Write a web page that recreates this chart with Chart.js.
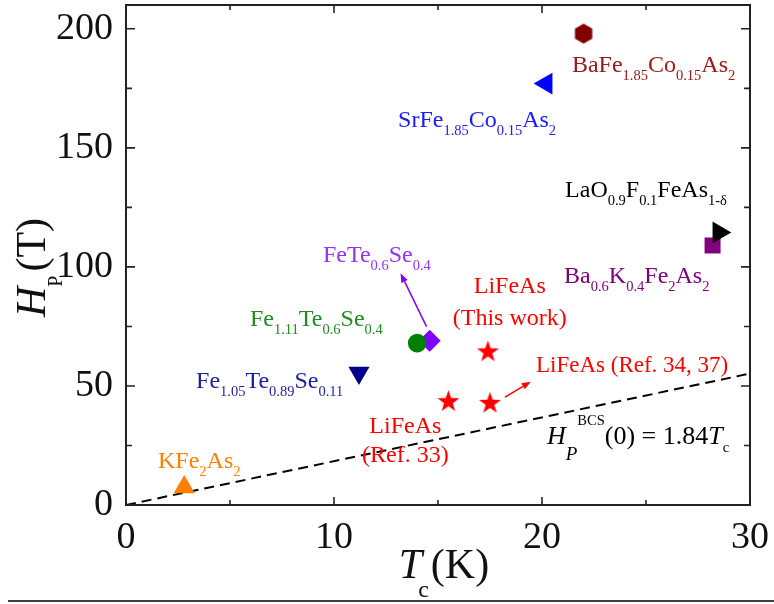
<!DOCTYPE html>
<html>
<head>
<meta charset="utf-8">
<script src="https://cdn.jsdelivr.net/npm/chart.js@4/dist/chart.umd.min.js"></script>
<style>
  html, body { margin: 0; padding: 0; background: #fff; }
  #wrap { width: 774px; height: 604px; }
</style>
</head>
<body>
<div id="wrap"><canvas id="c" width="774" height="604"></canvas></div>
<script>
// ---------------- data ----------------
const compounds = ['BaFe1.85Co0.15As2', 'SrFe1.85Co0.15As2', 'LaO0.9F0.1FeAs1-δ', 'Ba0.6K0.4Fe2As2',
  'Fe1.11Te0.6Se0.4', 'FeTe0.6Se0.4', 'Fe1.05Te0.89Se0.11',
  'LiFeAs (This work)', 'LiFeAs (Ref. 33)', 'LiFeAs (Ref. 34, 37)', 'KFe2As2'];
const tcValues = [22.0, 20.2, 28.5, 28.2, 14.0, 14.6, 11.2, 17.4, 15.5, 17.5, 2.8];
const hpValues = [198, 177, 114.5, 109, 68, 69, 55.5, 64.7, 43.8, 43.1, 7.5];
const bcsTc = [0, 30];
const bcsHp = [0, 55.2];
const xTickValues = [0, 10, 20, 30];
const yTickValues = [0, 50, 100, 150, 200];

// ---------------- styles ----------------
const SERIF = '"Liberation Serif", "Times New Roman", serif';

function makeHexagon(color, r) {
  const c = document.createElement('canvas');
  const s = Math.ceil(2 * r + 2);
  c.width = s; c.height = s;
  const g = c.getContext('2d');
  g.fillStyle = color;
  g.beginPath();
  for (let i = 0; i < 6; i++) {
    const a = -Math.PI / 2 + i * Math.PI / 3;
    const px = s / 2 + r * Math.cos(a), py = s / 2 + r * Math.sin(a);
    i ? g.lineTo(px, py) : g.moveTo(px, py);
  }
  g.closePath(); g.fill();
  return c;
}
function makeStar(color, ro, ri) {
  const c = document.createElement('canvas');
  const s = Math.ceil(2 * ro + 2);
  c.width = s; c.height = s;
  const g = c.getContext('2d');
  g.fillStyle = color;
  g.beginPath();
  for (let i = 0; i < 10; i++) {
    const a = -Math.PI / 2 + i * Math.PI / 5;
    const r = i % 2 ? ri : ro;
    const px = s / 2 + r * Math.cos(a), py = s / 2 + 1 + r * Math.sin(a);
    i ? g.lineTo(px, py) : g.moveTo(px, py);
  }
  g.closePath(); g.fill();
  return c;
}
const star = makeStar('#ff0000', 11.5, 4.6);
const markerStyles = [
  { color: '#800000', style: makeHexagon('#800000', 10), radius: 10, rotation: 0 },
  { color: '#0000ff', style: 'triangle', radius: 12.5, rotation: -90 },
  { color: '#000000', style: 'triangle', radius: 12.5, rotation: 90 },
  { color: '#800080', style: 'rect', radius: 11.3, rotation: 0 },
  { color: '#008000', style: 'circle', radius: 9.3, rotation: 0 },
  { color: '#8000ff', style: 'rectRot', radius: 11, rotation: 0 },
  { color: '#00008b', style: 'triangle', radius: 12.2, rotation: 180 },
  { color: '#ff0000', style: star, radius: 10, rotation: 0 },
  { color: '#ff0000', style: star, radius: 10, rotation: 0 },
  { color: '#ff0000', style: star, radius: 10, rotation: 0 },
  { color: '#ff8000', style: 'triangle', radius: 12.2, rotation: 0 }
];

const datasets = compounds.map((name, i) => ({
  type: 'scatter',
  label: name,
  data: [{ x: tcValues[i], y: hpValues[i] }],
  pointStyle: markerStyles[i].style,
  pointRadius: markerStyles[i].radius,
  pointRotation: markerStyles[i].rotation,
  backgroundColor: markerStyles[i].color,
  borderColor: markerStyles[i].color,
  borderWidth: 0,
  order: i
}));
datasets.push({
  type: 'line',
  label: 'H_P^BCS(0) = 1.84 Tc',
  data: bcsTc.map((t, i) => ({ x: t, y: bcsHp[i] })),
  borderColor: '#000',
  borderWidth: 2,
  borderDash: [10, 6],
  pointRadius: 0,
  fill: false,
  order: 100
});

// ---------------- annotation text (positions in data units) ----------------
const annotations = [
  { at: [21.44, 181.9], align: 'left', color: '#a01818',
    segs: [['BaFe'], ['1.85', 'sub'], ['Co'], ['0.15', 'sub'], ['As'], ['2', 'sub']] },
  { at: [13.08, 158.8], align: 'left', color: '#1a1aff',
    segs: [['SrFe'], ['1.85', 'sub'], ['Co'], ['0.15', 'sub'], ['As'], ['2', 'sub']] },
  { at: [21.11, 129.4], align: 'left', color: '#000000',
    segs: [['LaO'], ['0.9', 'sub'], ['F'], ['0.1', 'sub'], ['FeAs'], ['1-δ', 'sub']] },
  { at: [21.06, 93.3], align: 'left', color: '#800080',
    segs: [['Ba'], ['0.6', 'sub'], ['K'], ['0.4', 'sub'], ['Fe'], ['2', 'sub'], ['As'], ['2', 'sub']] },
  { at: [9.47, 102.1], align: 'left', color: '#8f33ff',
    segs: [['FeTe'], ['0.6', 'sub'], ['Se'], ['0.4', 'sub']] },
  { at: [18.45, 88.9], align: 'center', color: '#ff0000', segs: [['LiFeAs']] },
  { at: [18.45, 75.8], align: 'center', color: '#ff0000', segs: [['(This work)']] },
  { at: [5.96, 75.2], align: 'left', color: '#1f8c1f',
    segs: [['Fe'], ['1.11', 'sub'], ['Te'], ['0.6', 'sub'], ['Se'], ['0.4', 'sub']] },
  { at: [3.37, 49.2], align: 'left', color: '#1c1ca8',
    segs: [['Fe'], ['1.05', 'sub'], ['Te'], ['0.89', 'sub'], ['Se'], ['0.11', 'sub']] },
  { at: [19.71, 55.9], align: 'left', color: '#ff0000', size: 23, segs: [['LiFeAs (Ref. 34, 37)']] },
  { at: [13.43, 30.3], align: 'center', color: '#ff0000', segs: [['LiFeAs']] },
  { at: [13.43, 18.1], align: 'center', color: '#ff0000', segs: [['(Ref. 33)']] },
  { at: [20.24, 25.6], align: 'left', color: '#000000', size: 26,
    segs: [['H', 'it'], ['P', 'itsub'], ['BCS', 'sup'], ['(0) = 1.84'], ['T', 'it'], ['c', 'sub']] },
  { at: [1.54, 15.5], align: 'left', color: '#ff8000',
    segs: [['KFe'], ['2', 'sub'], ['As'], ['2', 'sub']] }
];
const arrows = [
  { from: [14.45, 74.9], to: [13.2, 97.3], color: '#8000ff' },
  { from: [18.22, 45.3], to: [19.46, 51.8], color: '#ff0000' }
];

// ---------------- rich text helpers ----------------
const SUB = 14.5;
function segFont(kind, main) {
  switch (kind) {
    case 'sub': return { font: `${SUB}px ${SERIF}`, dy: 8 };
    case 'itsub': return { font: `italic 19px ${SERIF}`, dy: 16 };
    case 'sup': return { font: `${SUB}px ${SERIF}`, dy: -19 };
    case 'it': return { font: `italic ${main}px ${SERIF}`, dy: 0 };
    default: return { font: `${main}px ${SERIF}`, dy: 0 };
  }
}
function drawRich(ctx, x, y, segs, color, align, main) {
  let total = 0;
  segs.forEach(([t, k]) => { ctx.font = segFont(k, main).font; total += ctx.measureText(t).width; });
  let cx = align === 'center' ? x - total / 2 : x;
  ctx.fillStyle = color;
  ctx.textBaseline = 'alphabetic';
  ctx.textAlign = 'left';
  segs.forEach(([t, k]) => {
    const f = segFont(k, main);
    ctx.font = f.font;
    ctx.fillText(t, cx, y + f.dy);
    cx += ctx.measureText(t).width;
  });
}

const decorPlugin = {
  id: 'decor',
  afterDatasetsDraw(chart) {
    const { ctx, chartArea: a } = chart;
    const xs = chart.scales.x, ys = chart.scales.y;
    ctx.save();
    // frame
    ctx.strokeStyle = '#222';
    ctx.lineWidth = 2;
    ctx.strokeRect(a.left, a.top, a.right - a.left, a.bottom - a.top);
    // inward ticks
    ctx.lineWidth = 1.6;
    ctx.beginPath();
    for (let v = 0; v <= 30; v += 5) {
      const px = xs.getPixelForValue(v);
      const L = v % 10 === 0 ? 8 : 5;
      ctx.moveTo(px, a.bottom); ctx.lineTo(px, a.bottom - L);
      ctx.moveTo(px, a.top); ctx.lineTo(px, a.top + L);
    }
    for (let v = 0; v <= 200; v += 25) {
      const py = ys.getPixelForValue(v);
      const L = v % 50 === 0 ? 9 : 6;
      ctx.moveTo(a.left, py); ctx.lineTo(a.left + L, py);
      ctx.moveTo(a.right, py); ctx.lineTo(a.right - L, py);
    }
    ctx.stroke();

    // arrows
    arrows.forEach(ar => {
      const x1 = xs.getPixelForValue(ar.from[0]), y1 = ys.getPixelForValue(ar.from[1]);
      const x2 = xs.getPixelForValue(ar.to[0]), y2 = ys.getPixelForValue(ar.to[1]);
      const ang = Math.atan2(y2 - y1, x2 - x1);
      const hl = 9, hw = 3.5;
      ctx.strokeStyle = ar.color; ctx.fillStyle = ar.color; ctx.lineWidth = 1.5;
      ctx.beginPath();
      ctx.moveTo(x1, y1);
      ctx.lineTo(x2 - hl * Math.cos(ang), y2 - hl * Math.sin(ang));
      ctx.stroke();
      ctx.beginPath();
      ctx.moveTo(x2, y2);
      ctx.lineTo(x2 - hl * Math.cos(ang) + hw * Math.sin(ang), y2 - hl * Math.sin(ang) - hw * Math.cos(ang));
      ctx.lineTo(x2 - hl * Math.cos(ang) - hw * Math.sin(ang), y2 - hl * Math.sin(ang) + hw * Math.cos(ang));
      ctx.closePath(); ctx.fill();
    });

    // annotation labels
    annotations.forEach(an => {
      drawRich(ctx, xs.getPixelForValue(an.at[0]), ys.getPixelForValue(an.at[1]), an.segs, an.color, an.align, an.size || 24);
    });

    // axis titles
    ctx.fillStyle = '#111';
    ctx.textBaseline = 'alphabetic';
    ctx.textAlign = 'left';
    // x title: T_c(K)
    {
      const fT = `italic 42px ${SERIF}`, fS = `24px ${SERIF}`, fM = `42px ${SERIF}`;
      ctx.font = fT; const wT = ctx.measureText('T').width;
      ctx.font = fS; const wS = ctx.measureText('c').width;
      ctx.font = fM; const wM = ctx.measureText('(K)').width;
      const total = wT + wS + wM;
      let x0 = (a.left + a.right) / 2 + 7 - total / 2;
      const base = 578;
      ctx.font = fT; ctx.fillText('T', x0, base);
      ctx.font = fS; ctx.fillText('c', x0 + wT - 4, base + 19);
      ctx.font = fM; ctx.fillText('(K)', x0 + wT + wS - 2, base);
    }
    // y title: H_P(T)
    {
      ctx.save();
      ctx.translate(45, 317);
      ctx.rotate(-Math.PI / 2);
      const fT = `italic 42px ${SERIF}`, fS = `20px ${SERIF}`, fM = `42px ${SERIF}`;
      ctx.font = fT; const wT = ctx.measureText('H').width;
      ctx.font = fS; const wS = ctx.measureText('P').width;
      ctx.font = fT; ctx.fillText('H', 0, 0);
      ctx.font = fS; ctx.fillText('P', wT, 17);
      ctx.font = fM; ctx.fillText('(T)', wT + wS + 4, 0);
      ctx.restore();
    }
    // bottom rule
    ctx.strokeStyle = '#000';
    ctx.lineWidth = 1.5;
    ctx.beginPath();
    ctx.moveTo(8, 601); ctx.lineTo(774, 601);
    ctx.stroke();
    ctx.restore();
  }
};

new Chart(document.getElementById('c'), {
  data: { datasets },
  options: {
    responsive: false,
    animation: false,
    events: [],
    layout: { autoPadding: false, padding: { left: 0, right: 24, top: 5, bottom: 0 } },
    plugins: { legend: { display: false }, tooltip: { enabled: false }, title: { display: false } },
    scales: {
      x: {
        type: 'linear', position: 'bottom', min: 0, max: 30,
        grid: { display: false, drawTicks: false },
        border: { display: false },
        afterBuildTicks: s => { s.ticks = xTickValues.map(v => ({ value: v })); },
        ticks: { font: { family: SERIF, size: 38 }, color: '#111', padding: 10, maxRotation: 0 },
        afterFit: s => { s.height = 99; s.paddingLeft = 0; s.paddingRight = 0; }
      },
      y: {
        type: 'linear', position: 'left', min: 0, max: 210,
        grid: { display: false, drawTicks: false },
        border: { display: false },
        afterBuildTicks: s => { s.ticks = yTickValues.map(v => ({ value: v })); },
        ticks: { font: { family: SERIF, size: 38 }, color: '#111', padding: 13 },
        afterFit: s => { s.width = 126; s.paddingTop = 0; s.paddingBottom = 0; }
      }
    }
  },
  plugins: [decorPlugin]
});
</script>
</body>
</html>
